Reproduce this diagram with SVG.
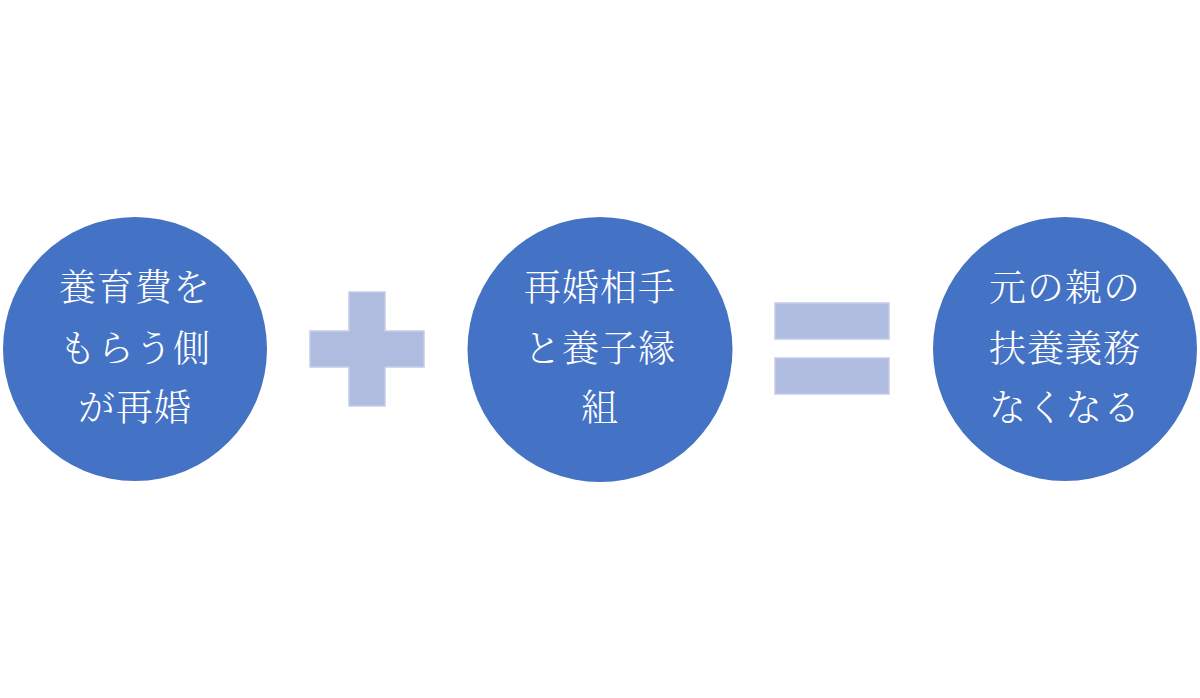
<svg xmlns="http://www.w3.org/2000/svg" width="1200" height="698" viewBox="0 0 1200 698">
  <style>
    .node { fill: #4472C4; }
    .sym { fill: #B0BCDF; stroke: #C3CDE9; stroke-width: 1.5; }
    .label { fill: #FFFFFF; font-family: "Noto Serif CJK JP", "Noto Sans CJK JP", "Liberation Serif", serif; font-size: 37px; font-weight: 300; text-anchor: middle; letter-spacing: 1px; }
  </style>
  <rect width="1200" height="698" fill="#FFFFFF"/>
  <g id="node-1">
    <circle class="node" cx="135" cy="349" r="132"/>
    <text class="label" x="135" y="301">養育費を</text>
    <text class="label" x="135" y="362">もらう側</text>
    <text class="label" x="135" y="421">が再婚</text>
  </g>
  <g id="plus">
    <path class="sym" d="M349 292 H385 V331 H424 V367 H385 V406 H349 V367 H310 V331 H349 Z"/>
  </g>
  <g id="node-2">
    <circle class="node" cx="600" cy="349.5" r="132.5"/>
    <text class="label" x="600" y="301">再婚相手</text>
    <text class="label" x="600" y="362">と養子縁</text>
    <text class="label" x="600" y="421">組</text>
  </g>
  <g id="equals">
    <rect class="sym" x="775" y="303" width="114" height="36"/>
    <rect class="sym" x="775" y="358" width="114" height="36"/>
  </g>
  <g id="node-3">
    <circle class="node" cx="1065" cy="349" r="132"/>
    <text class="label" x="1065" y="301">元の親の</text>
    <text class="label" x="1065" y="362">扶養義務</text>
    <text class="label" x="1065" y="421">なくなる</text>
  </g>
  <g id="connectors"></g>
</svg>
